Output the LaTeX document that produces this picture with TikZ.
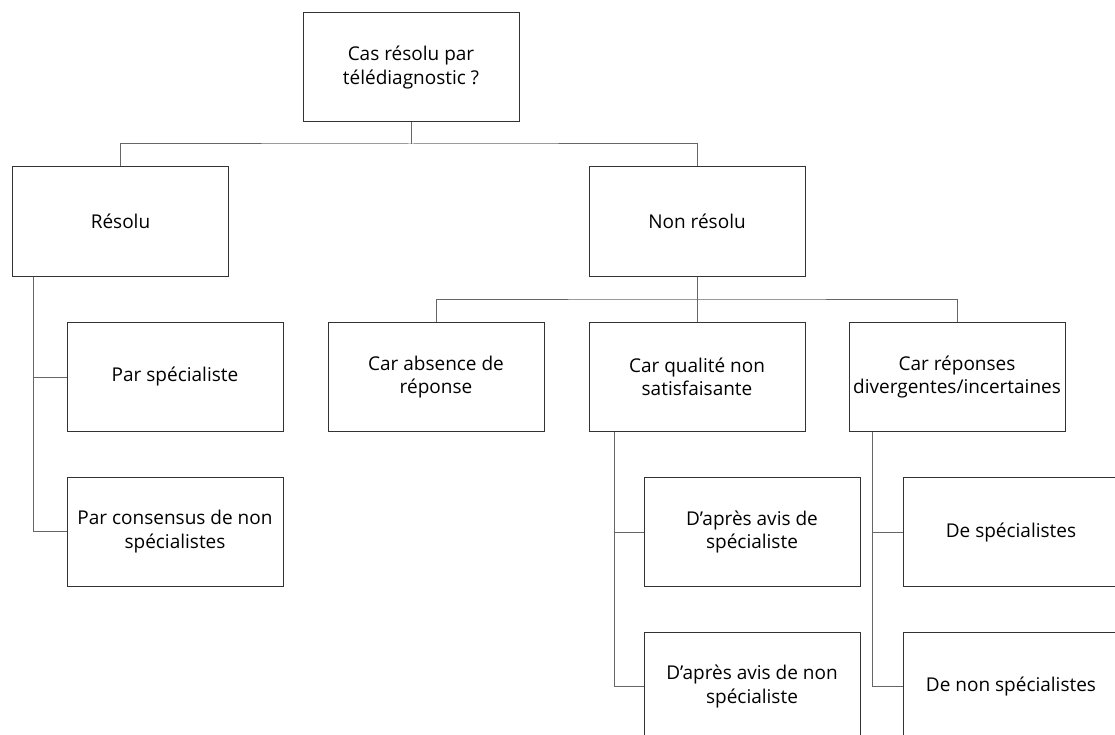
\documentclass[tikz,border=0pt]{standalone}
\usepackage{fontspec}
\setmainfont{Open Sans}
\begin{document}
\begin{tikzpicture}[x=1pt,y=-1pt,
  box/.style={draw=black!80,line width=1pt,minimum width=216pt,minimum height=109pt,inner sep=0pt,align=center,
    font=\fontsize{19pt}{23.5pt}\selectfont,text=black},
  link/.style={draw=black!60,line width=1pt}]
\useasboundingbox (0,0) rectangle (1115,735);
\clip (0,0) rectangle (1115,735);
\node[box] (top) at (411,67.5) {Cas résolu par\\télédiagnostic ?};
\node[box] (res) at (120.5,221.5) {Résolu};
\node[box] (nres) at (697,221.5) {Non résolu};
\node[box] (ps) at (175,377) {Par spécialiste};
\node[box] (pc) at (175,531.5) {Par consensus de non\\spécialistes};
\node[box] (abs) at (436,377) {Car absence de\\réponse};
\node[box] (qual) at (697,377) {Car qualité non\\satisfaisante};
\node[box] (rep) at (957,377) {Car réponses\\divergentes/incertaines};
\node[box] (d1) at (752,532) {D’après avis de\\spécialiste};
\node[box] (d2) at (752,686.5) {D’après avis de non\\spécialiste};
\node[box] (s1) at (1011,532) {De spécialistes};
\node[box] (s2) at (1011,686.5) {De non spécialistes};
\coordinate (b1) at (411,144);
\coordinate (b2) at (697,299);
\coordinate (rb) at (33,0);
\coordinate (qb) at (614,0);
\coordinate (pb) at (872,0);
\draw[link] (top.south) -- (b1);
\draw[link] (res.north) |- (b1) -| (nres.north);
\draw[link] (nres.south) -- (qual.north);
\draw[link] (abs.north) |- (b2) -| (rep.north);
\draw[link] (res.south -| rb) |- (pc.west);
\draw[link] (ps.west) -- (ps.west -| rb);
\draw[link] (qual.south -| qb) |- (d2.west);
\draw[link] (d1.west) -- (d1.west -| qb);
\draw[link] (rep.south -| pb) |- (s2.west);
\draw[link] (s1.west) -- (s1.west -| pb);
\end{tikzpicture}
\end{document}
